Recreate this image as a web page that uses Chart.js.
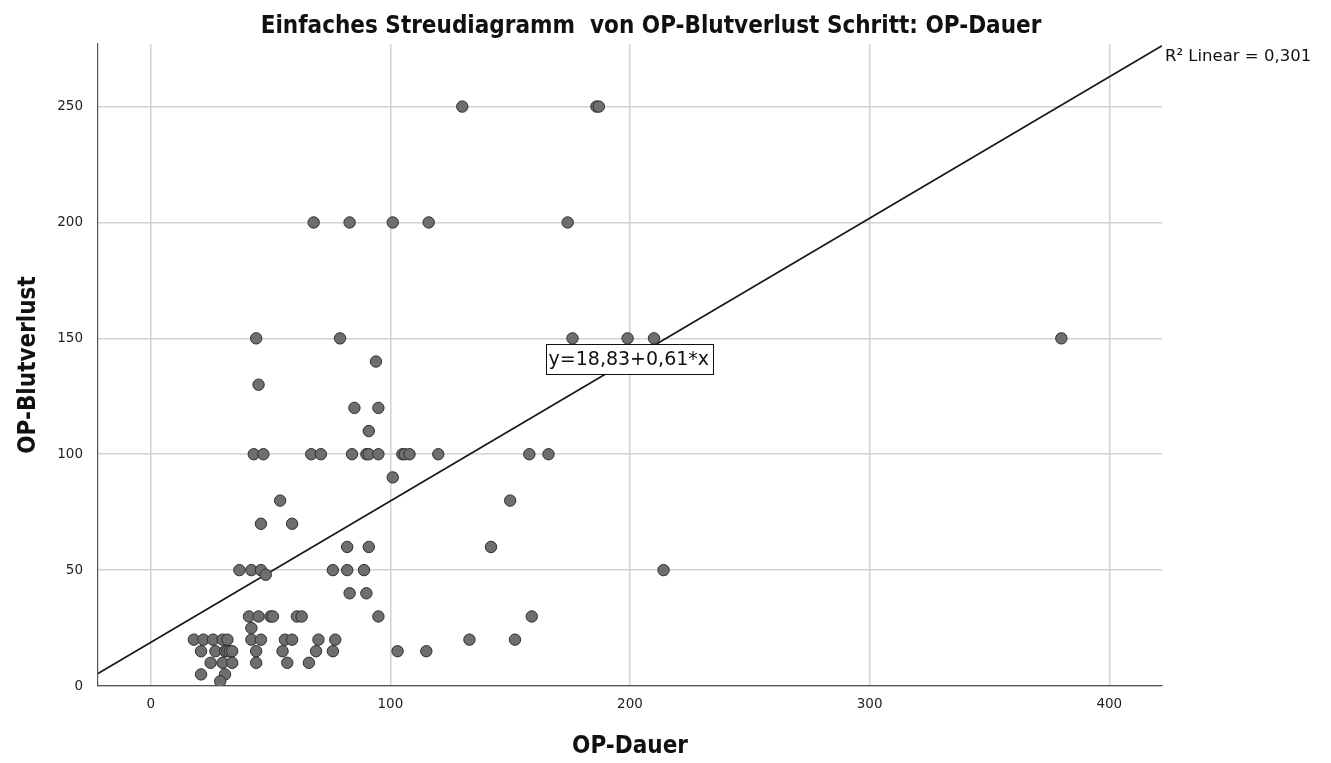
<!DOCTYPE html>
<html>
<head>
<meta charset="utf-8">
<script src="https://cdn.jsdelivr.net/npm/chart.js"></script>
<style>
  body { margin: 0; background: #fff; }
  #wrap { width: 1331px; height: 763px; }
</style>
</head>
<body>
<div id="wrap"><canvas id="myChart" width="1331" height="763"></canvas></div>
<script>
// OP-Dauer (x) and OP-Blutverlust (y)
const opDauer = [
  130, 186, 187,
  68, 83, 101, 116, 174,
  44, 79, 176, 199, 210, 380,
  94, 45, 85, 95, 91,
  43, 47, 67, 71, 84, 90, 91, 95, 105, 106, 108, 120, 158, 166,
  101, 54, 150, 46, 59, 82, 91, 142,
  37, 42, 46, 48, 76, 82, 89, 214,
  83, 90,
  41, 45, 50, 51, 61, 63, 95, 159,
  42,
  18, 22, 26, 30, 32, 42, 46, 56, 59, 70, 77, 133, 152,
  21, 27, 31, 32, 33, 34, 44, 55, 69, 76, 103, 115,
  25, 30, 34, 44, 57, 66,
  21, 31, 29
];
const opBlutverlust = [
  250, 250, 250,
  200, 200, 200, 200, 200,
  150, 150, 150, 150, 150, 150,
  140, 130, 120, 120, 110,
  100, 100, 100, 100, 100, 100, 100, 100, 100, 100, 100, 100, 100, 100,
  90, 80, 80, 70, 70, 60, 60, 60,
  50, 50, 50, 48, 50, 50, 50, 50,
  40, 40,
  30, 30, 30, 30, 30, 30, 30, 30,
  25,
  20, 20, 20, 20, 20, 20, 20, 20, 20, 20, 20, 20, 20,
  15, 15, 15, 15, 15, 15, 15, 15, 15, 15, 15, 15,
  10, 10, 10, 10, 10, 10,
  5, 5, 2
];

const xTicks = [0, 100, 200, 300, 400];
const yTicks = [0, 50, 100, 150, 200, 250];
const xRange = [-22, 422];
const yRange = [0, 277];

// linear fit shown by SPSS
const intercept = 18.83;
const slope = 0.61;
const r2Text = 'R\u00B2 Linear = 0,301';
const eqText = 'y=18,83+0,61*x';
const titleText = 'Einfaches Streudiagramm  von OP-Blutverlust Schritt: OP-Dauer';

const points = opDauer.map((d, i) => ({ x: d, y: opBlutverlust[i] }));
const fitLine = xRange.map(v => ({ x: v, y: intercept + slope * v }));

const boldFont = '"Liberation Sans Narrow", "DejaVu Sans Condensed", "Liberation Sans", sans-serif';

const labels = {
  id: 'labels',
  afterDraw(chart) {
    const { ctx, scales: { x, y } } = chart;
    ctx.save();
    ctx.fillStyle = '#111';
    ctx.font = 'bold 24px ' + boldFont;
    ctx.textAlign = 'center';
    ctx.textBaseline = 'middle';
    ctx.fillText(titleText, 651, 27);

    // R² label at the end of the fit line
    const xe = xRange[1];
    ctx.font = '16.5px "DejaVu Sans", sans-serif';
    ctx.textAlign = 'left';
    ctx.fillText(r2Text, x.getPixelForValue(xe) + 3, y.getPixelForValue(intercept + slope * xe) + 11);

    // equation box
    ctx.font = '19px "DejaVu Sans", sans-serif';
    const w = ctx.measureText(eqText).width + 6;
    const h = 30;
    const cx = x.getPixelForValue(199.5);
    const cy = y.getPixelForValue(141);
    ctx.fillStyle = '#fff';
    ctx.fillRect(cx - w / 2, cy - h / 2, w, h);
    ctx.strokeStyle = '#111';
    ctx.lineWidth = 1;
    ctx.strokeRect(Math.round(cx - w / 2) + 0.5, Math.round(cy - h / 2) + 0.5, Math.round(w), h);
    ctx.fillStyle = '#111';
    ctx.textAlign = 'center';
    ctx.fillText(eqText, cx, cy + 1);
    ctx.restore();
  }
};

new Chart(document.getElementById('myChart'), {
  type: 'scatter',
  data: {
    datasets: [
      {
        label: 'OP-Blutverlust',
        data: points,
        pointRadius: 5.7,
        pointHoverRadius: 5.7,
        pointBackgroundColor: '#6e6e6e',
        pointBorderColor: '#2e2e2e',
        pointBorderWidth: 1
      },
      {
        label: 'Linear',
        type: 'line',
        data: fitLine,
        borderColor: '#1a1a1a',
        borderWidth: 1.8,
        pointRadius: 0,
        fill: false
      }
    ]
  },
  options: {
    responsive: false,
    animation: false,
    layout: { padding: { top: 44, right: 169, bottom: 0, left: 0 } },
    plugins: {
      legend: { display: false },
      tooltip: { enabled: false }
    },
    scales: {
      x: {
        type: 'linear',
        min: xRange[0],
        max: xRange[1],
        afterBuildTicks: s => { s.ticks = xTicks.map(v => ({ value: v })); },
        afterFit: s => { s.height = 77; },
        grid: { color: '#d2d2d2', lineWidth: 1.5, drawTicks: false },
        border: { color: '#555', width: 1.2 },
        ticks: { padding: 10, color: '#222', font: { family: 'DejaVu Sans', size: 13.5 } },
        title: {
          display: true,
          text: 'OP-Dauer',
          color: '#111',
          font: { family: boldFont, size: 24, weight: 'bold' },
          padding: { top: 0, bottom: 2 }
        }
      },
      y: {
        type: 'linear',
        min: yRange[0],
        max: yRange[1],
        afterBuildTicks: s => { s.ticks = yTicks.map(v => ({ value: v })); },
        afterFit: s => { s.width = 98; },
        grid: { color: '#d2d2d2', lineWidth: 1.5, drawTicks: false },
        border: { color: '#555', width: 1.2 },
        ticks: { padding: 15, color: '#222', font: { family: 'DejaVu Sans', size: 13.5 } },
        title: {
          display: true,
          text: 'OP-Blutverlust',
          color: '#111',
          font: { family: boldFont, size: 24, weight: 'bold' },
          padding: { top: 14, bottom: 0 }
        }
      }
    }
  },
  plugins: [labels]
});
</script>
</body>
</html>
